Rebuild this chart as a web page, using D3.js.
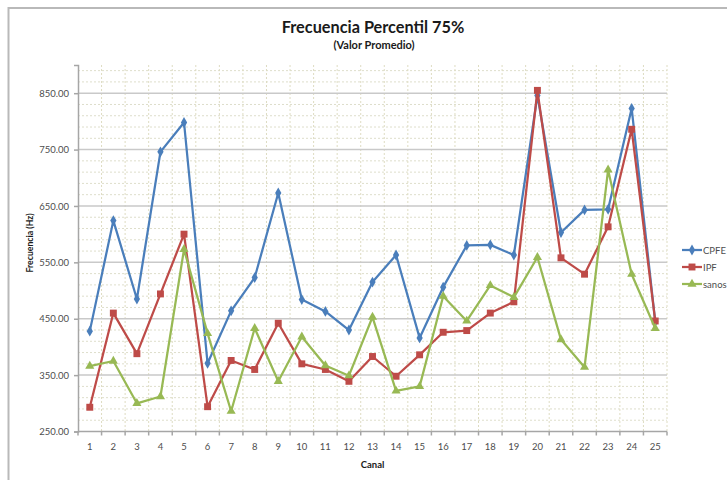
<!DOCTYPE html>
<html>
<head>
<meta charset="utf-8">
<script src="https://cdn.jsdelivr.net/npm/d3@7"></script>
<style>
  html, body { margin: 0; padding: 0; background: #ffffff; }
  svg { display: block; font-family: Lato, "Open Sans", "Liberation Sans", sans-serif; }
</style>
</head>
<body>
<svg id="chart" width="727" height="480"></svg>
<script>
// Channels (Canal) 1..25
const canales = d3.range(1, 26).map(String);

// Average 75th-percentile frequency per channel (Hz)
const cpfe = [428, 624, 485, 746, 798, 371, 464, 523, 673, 484, 463, 430, 515, 563, 416,
              506, 580, 581, 563, 846, 603, 643, 644, 823, 445];
const ipf = [293, 460, 388, 494, 600, 294, 376, 360, 442, 370, 360, 339, 383, 348, 386,
             426, 429, 460, 480, 855, 558, 529, 613, 786, 446];
const sanos = [366, 375, 300, 312, 573, 424, 286, 433, 339, 418, 367, 349, 453, 322, 330,
               490, 446, 509, 488, 559, 413, 364, 714, 529, 433];

const yTicks = [250, 350, 450, 550, 650, 750, 850];
const seriesNames = ["CPFE", "IPF", "sanos"];
const seriesColors = ["#4A7EBB", "#BE4B48", "#98B954"];

const series = [
  { name: seriesNames[0], values: cpfe,  color: seriesColors[0], symbol: d3.symbolDiamond, size: 34 },
  { name: seriesNames[1], values: ipf,   color: seriesColors[1], symbol: d3.symbolSquare,  size: 48 },
  { name: seriesNames[2], values: sanos, color: seriesColors[2], symbol: d3.symbolTriangle, size: 36 }
];

const svg = d3.select("#chart");

// outer chart frame
svg.append("path")
  .attr("d", "M8.5,480 L8.5,8 L727,8")
  .attr("fill", "none")
  .attr("stroke", "#b9b9b9")
  .attr("stroke-width", 2);

const plot = { left: 78, right: 667, top: 65, bottom: 431.5 };

const x = d3.scaleBand().domain(canales).range([plot.left, plot.right]).padding(0);
const cx = c => x(c) + x.bandwidth() / 2;
const y = d3.scaleLinear().domain([250, 900]).range([plot.bottom, plot.top]);

const grid = svg.append("g");

// minor horizontal gridlines every 20 Hz
grid.selectAll("line.minor")
  .data(d3.range(270, 901, 20).filter(v => (v - 250) % 100 !== 0))
  .join("line")
  .attr("x1", plot.left).attr("x2", plot.right)
  .attr("y1", d => y(d)).attr("y2", d => y(d))
  .attr("stroke", "#dedecb")
  .attr("stroke-width", 1)
  .attr("stroke-dasharray", "2,2");

// vertical gridlines between channels
grid.selectAll("line.vgrid")
  .data(canales.slice(1).concat(["end"]))
  .join("line")
  .attr("x1", d => d === "end" ? plot.right : x(d))
  .attr("x2", d => d === "end" ? plot.right : x(d))
  .attr("y1", plot.top).attr("y2", plot.bottom)
  .attr("stroke", "#dedcc2")
  .attr("stroke-width", 1)
  .attr("stroke-dasharray", "2,2");

// major horizontal gridlines
grid.selectAll("line.major")
  .data(yTicks.slice(1))
  .join("line")
  .attr("x1", plot.left).attr("x2", plot.right)
  .attr("y1", d => y(d)).attr("y2", d => y(d))
  .attr("stroke", "#c9c9c9")
  .attr("stroke-width", 1.5);

// y axis
const yAxis = svg.append("g")
  .attr("transform", `translate(${plot.left},0)`)
  .call(d3.axisLeft(y).tickValues(yTicks).tickFormat(d3.format(".2f")).tickSize(4).tickPadding(5));
yAxis.select(".domain").attr("stroke", "#a6a6a6").attr("stroke-width", 1.5);
yAxis.selectAll(".tick line").attr("stroke", "#a6a6a6").attr("stroke-width", 1.5);
yAxis.selectAll(".tick text").attr("fill", "#4d4d4d").style("font-size", "9.5px")
  .style("font-family", "Lato, 'Open Sans', sans-serif");

// x axis with ticks on channel boundaries
const xAxisG = svg.append("g").attr("transform", `translate(0,${plot.bottom})`);
xAxisG.append("line")
  .attr("x1", plot.left).attr("x2", plot.right)
  .attr("stroke", "#a6a6a6").attr("stroke-width", 1.5);
xAxisG.selectAll("line.tk")
  .data(canales.concat(["end"]))
  .join("line")
  .attr("x1", d => d === "end" ? plot.right : x(d))
  .attr("x2", d => d === "end" ? plot.right : x(d))
  .attr("y1", 0).attr("y2", 4)
  .attr("stroke", "#a6a6a6").attr("stroke-width", 1.5);
xAxisG.selectAll("text")
  .data(canales)
  .join("text")
  .attr("x", d => cx(d))
  .attr("y", 18)
  .attr("text-anchor", "middle")
  .attr("fill", "#4d4d4d")
  .style("font-size", "9.5px")
  .text(d => d);

// series lines and markers
const line = d3.line().x((d, i) => cx(canales[i])).y(d => y(d));

series.forEach(s => {
  const g = svg.append("g");
  g.append("path")
    .attr("d", line(s.values))
    .attr("fill", "none")
    .attr("stroke", s.color)
    .attr("stroke-width", 2.25)
    .attr("stroke-linejoin", "round");
  g.selectAll("path.m")
    .data(s.values)
    .join("path")
    .attr("transform", (d, i) => `translate(${cx(canales[i])},${y(d)})`)
    .attr("d", d3.symbol().type(s.symbol).size(s.size))
    .attr("fill", s.color);
});

// titles
svg.append("text")
  .attr("x", 373).attr("y", 33)
  .attr("text-anchor", "middle")
  .attr("fill", "#1a1a1a")
  .style("font-size", "16.3px").style("font-weight", "bold")
  .text("Frecuencia Percentil 75%");
svg.append("text")
  .attr("x", 374).attr("y", 49)
  .attr("text-anchor", "middle")
  .attr("fill", "#1a1a1a")
  .style("font-size", "11px").style("font-weight", "bold")
  .text("(Valor Promedio)");

// axis titles
svg.append("text")
  .attr("x", cx("13")).attr("y", 468)
  .attr("text-anchor", "middle")
  .attr("fill", "#1a1a1a")
  .style("font-size", "9.5px").style("font-weight", "bold")
  .text("Canal");
svg.append("text")
  .attr("transform", "translate(33,243) rotate(-90)")
  .attr("text-anchor", "middle")
  .attr("fill", "#1a1a1a")
  .style("font-size", "8.7px").style("font-weight", "bold")
  .text("Frecuencia (Hz)");

// legend
const legend = svg.append("g");
series.forEach((s, i) => {
  const ly = 250 + i * 17;
  legend.append("line")
    .attr("x1", 682).attr("x2", 702)
    .attr("y1", ly).attr("y2", ly)
    .attr("stroke", s.color).attr("stroke-width", 2.25);
  legend.append("path")
    .attr("transform", `translate(692,${ly})`)
    .attr("d", d3.symbol().type(s.symbol).size(s.size))
    .attr("fill", s.color);
  legend.append("text")
    .attr("x", 703).attr("y", ly + 3.5)
    .attr("fill", "#4d4d4d")
    .style("font-size", "9.5px")
    .text(s.name);
});
</script>
</body>
</html>
